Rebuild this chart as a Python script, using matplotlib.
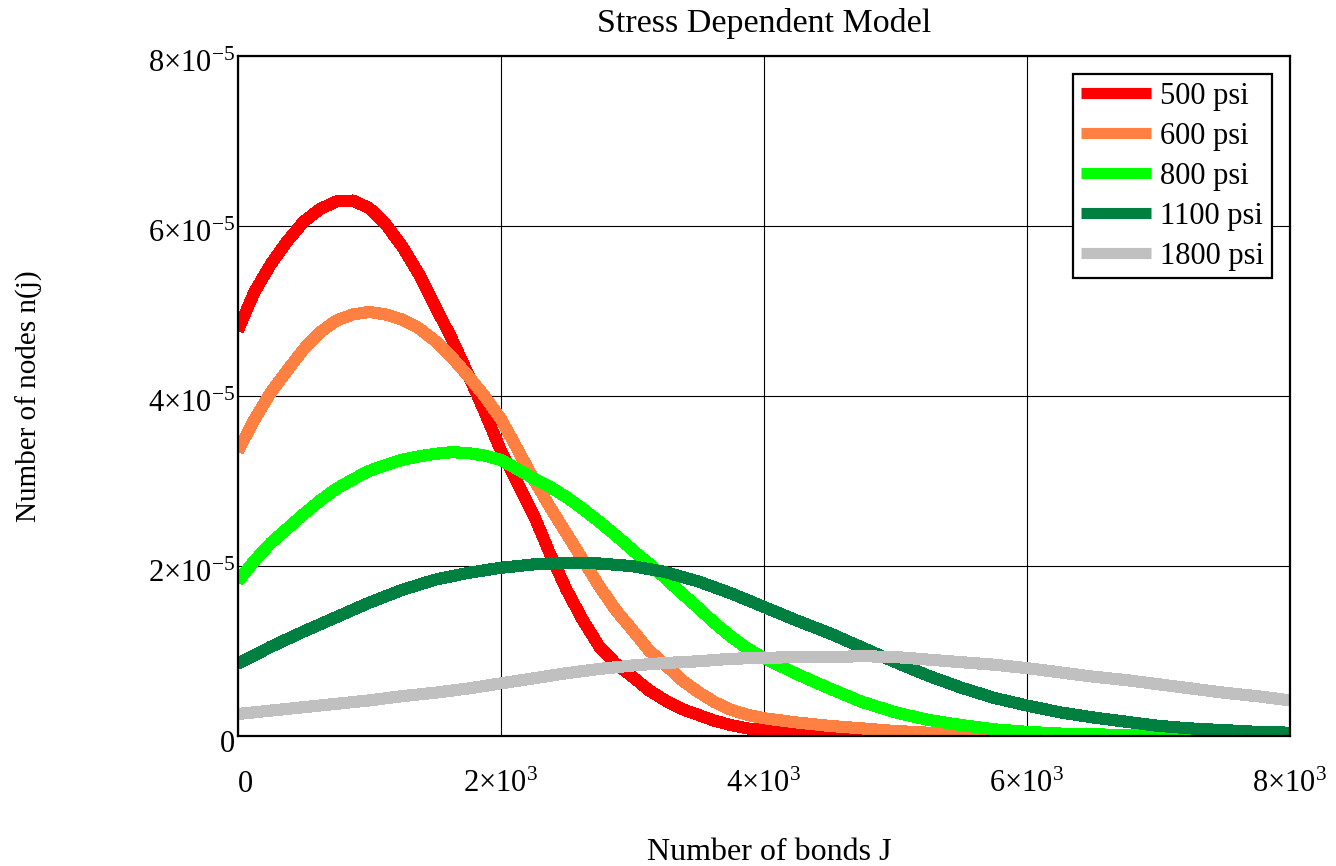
import numpy as np
import matplotlib
matplotlib.use('Agg')
import matplotlib.pyplot as plt
from matplotlib import transforms

plt.rcParams['font.family'] = ['Liberation Serif', 'DejaVu Serif']
plt.rcParams['mathtext.fontset'] = 'custom'
plt.rcParams['mathtext.rm'] = 'Liberation Serif'
plt.rcParams['mathtext.it'] = 'Liberation Serif:italic'

# number of bonds J (finer spacing where the low-stress curves bend)
j_fine = list(range(0, 4001, 125)) + list(range(4250, 8001, 250))
j_coarse = list(range(0, 8001, 250))

# n(j) in units of 1e-5
n_500 = [4.77, 5.22, 5.55, 5.82, 6.05, 6.20, 6.29, 6.30, 6.21, 6.02, 5.76,
         5.44, 5.06, 4.68, 4.26, 3.82, 3.36, 2.98, 2.60, 2.14, 1.72, 1.36,
         1.05, 0.85, 0.70, 0.54, 0.42, 0.32, 0.25, 0.18, 0.13, 0.09, 0.07,
         0.04, 0.03, 0.02, 0.01, 0.01, 0, 0, 0, 0, 0, 0, 0, 0, 0, 0, 0]
n_600 = [3.35, 3.72, 4.04, 4.30, 4.55, 4.75, 4.89, 4.96, 4.99, 4.96, 4.90,
         4.80, 4.65, 4.46, 4.24, 4.00, 3.73, 3.38, 3.02, 2.69, 2.38, 2.07,
         1.76, 1.48, 1.25, 1.01, 0.84, 0.66, 0.52, 0.40, 0.31, 0.25, 0.21,
         0.16, 0.12, 0.09, 0.06, 0.04, 0.03, 0.02, 0.01, 0, 0, 0, 0, 0, 0,
         0, 0]
n_800 = [1.82, 2.06, 2.27, 2.44, 2.61, 2.77, 2.91, 3.02, 3.12, 3.19, 3.25,
         3.29, 3.32, 3.34, 3.33, 3.30, 3.25, 3.14, 3.03, 2.93, 2.81, 2.67,
         2.52, 2.36, 2.19, 2.03, 1.86, 1.68, 1.51, 1.33, 1.17, 1.03, 0.92,
         0.73, 0.56, 0.40, 0.28, 0.19, 0.13, 0.08, 0.05, 0.03, 0.02, 0.015,
         0.01, 0.005, 0, 0, 0]
n_1100 = [0.85, 1.05, 1.23, 1.40, 1.57, 1.72, 1.84, 1.92, 1.98, 2.02, 2.04,
          2.03, 2.00, 1.93, 1.82, 1.68, 1.52, 1.36, 1.21, 1.04, 0.87, 0.71,
          0.57, 0.45, 0.36, 0.28, 0.22, 0.17, 0.12, 0.09, 0.07, 0.05, 0.04]
n_1800 = [0.26, 0.30, 0.34, 0.38, 0.42, 0.47, 0.51, 0.56, 0.62, 0.68, 0.74,
          0.79, 0.83, 0.86, 0.88, 0.91, 0.92, 0.93, 0.93, 0.94, 0.93, 0.90,
          0.87, 0.84, 0.80, 0.75, 0.70, 0.66, 0.61, 0.56, 0.51, 0.47, 0.42]

labels = ['500 psi', '600 psi', '800 psi', '1100 psi', '1800 psi']
colors = ['#ff0000', '#ff8040', '#00ff00', '#008040', '#c0c0c0']

xticks = [0, 2000, 4000, 6000, 8000]
xtick_labels = ['0', r'$2{\times}10^{3}$', r'$4{\times}10^{3}$',
                r'$6{\times}10^{3}$', r'$8{\times}10^{3}$']
yticks = [0, 2e-5, 4e-5, 6e-5, 8e-5]
ytick_labels = ['0', r'$2{\times}10^{-5}$', r'$4{\times}10^{-5}$',
                r'$6{\times}10^{-5}$', r'$8{\times}10^{-5}$']

fig = plt.figure(figsize=(13.36, 8.66), dpi=100)
ax = fig.add_axes([0.178, 0.150, 0.7875, 0.7853])

xs = [j_fine, j_fine, j_fine, j_coarse, j_coarse]
series = [n_500, n_600, n_800, n_1100, n_1800]
for x, vals, lab, col in zip(xs, series, labels, colors):
    ax.plot(x, np.array(vals) * 1e-5, color=col, lw=8.0, label=lab,
            solid_capstyle='butt', solid_joinstyle='round',
            antialiased=False, zorder=3)

ax.set_xlim(0, 8000)
ax.set_ylim(0, 8e-5)
ax.set_xticks(xticks)
ax.set_xticklabels(xtick_labels, fontsize=22, va='baseline')
ax.set_yticks(yticks)
ax.set_yticklabels(ytick_labels, fontsize=22, va='center')
ax.xaxis.get_ticklabels()[0].set_ha('left')
ax.tick_params(axis='x', length=0, pad=40)
ax.tick_params(axis='y', length=0, pad=2)

# y labels sit a little below their grid lines
shift = transforms.ScaledTranslation(0, -6 / 72, fig.dpi_scale_trans)
for t in ax.yaxis.get_ticklabels():
    t.set_transform(t.get_transform() + shift)

ax.grid(True, color='black', lw=0.8)
ax.set_axisbelow(True)
for sp in ax.spines.values():
    sp.set_linewidth(1.6)
    sp.set_color('black')
    sp.set_zorder(4)

ax.set_title('Stress Dependent Model', fontsize=24.5, pad=17)
ax.set_xlabel('Number of bonds J', fontsize=23, va='center')
ax.xaxis.set_label_coords(0.505, -0.1706)
ax.set_ylabel('Number of nodes n(j)', fontsize=21, va='center')
ax.yaxis.set_label_coords(-0.198, 0.5)

leg = ax.legend(loc='upper right', bbox_to_anchor=(0.983, 0.9735),
                borderaxespad=0, fontsize=22, handlelength=2.3,
                handletextpad=0.3, labelspacing=0.36, borderpad=0.25,
                fancybox=False, framealpha=1, edgecolor='black')
leg.get_frame().set_linewidth(1.6)

fig.savefig('out.png', dpi=100)
